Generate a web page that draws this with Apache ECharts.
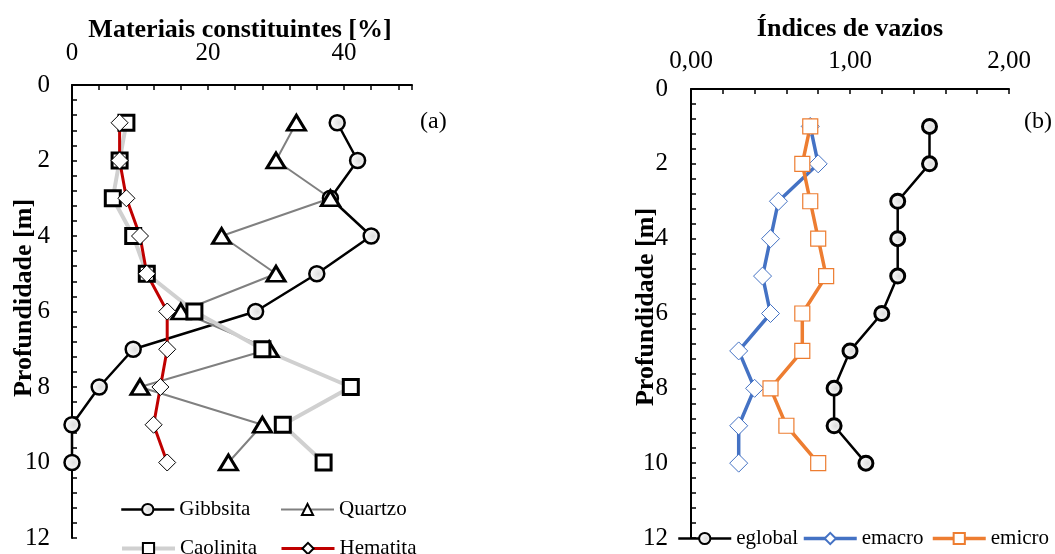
<!DOCTYPE html>
<html><head><meta charset="utf-8">
<script src="https://cdn.jsdelivr.net/npm/echarts@6/dist/echarts.min.js"></script>
<style>html,body{margin:0;padding:0;background:#fff}#c{width:1055px;height:554px}</style>
</head><body><div id="c"></div>
<script>
// ---- data ----
const depths = [1, 2, 3, 4, 5, 6, 7, 8, 9, 10];
const gibbsita  = [39, 42, 38, 44, 36, 27, 9, 4, 0, 0];
const quartzo   = [33, 30, 38, 22, 30, 16, 29, 10, 28, 23];
const caolinita = [8, 7, 6, 9, 11, 18, 28, 41, 31, 37];
const hematita  = [7, 7, 8, 10, 11, 14, 14, 13, 12, 14];
const eglobal = [1.50, 1.50, 1.30, 1.30, 1.30, 1.20, 1.00, 0.90, 0.90, 1.10];
const emacro  = [0.75, 0.80, 0.55, 0.50, 0.45, 0.50, 0.30, 0.40, 0.30, 0.30];
const emicro  = [0.75, 0.70, 0.75, 0.80, 0.85, 0.70, 0.70, 0.50, 0.60, 0.80];
const leftTickLabels = [0, 20, 40];
const depthTickLabels = [0, 2, 4, 6, 8, 10, 12];

const FONT = '"Liberation Serif", "Times New Roman", serif';
const pairs = (vals) => vals.map((v, i) => [v, depths[i]]);
const circFill = {type: 'radial', x: 0.6, y: 0.5, r: 0.6,
  colorStops: [{offset: 0, color: '#dcdcdc'}, {offset: 0.6, color: '#f4f4f4'}, {offset: 1, color: '#ffffff'}]};

const chart = echarts.init(document.getElementById('c'), null, {renderer: 'canvas'});

const tickStyle = {color: '#000', width: 1.5};
const axisLineStyle = {lineStyle: {color: '#000', width: 2}};
const labelBase = {fontFamily: FONT, fontSize: 25, color: '#000'};

function yAxis(gridIndex, margin) {
  return {
    type: 'value', gridIndex, inverse: true, min: 0, max: 12, interval: 2,
    axisLine: axisLineStyle,
    axisTick: {show: true, inside: true, length: 5, lineStyle: tickStyle},
    minorTick: {show: true, splitNumber: 5, length: 5, lineStyle: tickStyle},
    splitLine: {show: false},
    axisLabel: Object.assign({margin, formatter: v => depthTickLabels.includes(v) ? String(v) : ''}, labelBase)
  };
}

function legend(name, left, cy, lw) {
  return {
    data: [name], left, top: cy - 7, padding: 0, itemWidth: 53, itemHeight: 14,
    itemGap: 0, selectedMode: false, orient: 'horizontal',
    textStyle: {fontFamily: FONT, fontSize: 21, color: '#000'},
    lineStyle: {width: lw}
  };
}

const option = {
  animation: false,
  backgroundColor: '#fff',
  grid: [
    {left: 72, top: 85, width: 340, height: 453},
    {left: 691, top: 89, width: 318, height: 449}
  ],
  xAxis: [
    {
      type: 'value', gridIndex: 0, position: 'top', min: 0, max: 50, interval: 4,
      axisLine: axisLineStyle,
      axisTick: {show: true, inside: true, length: 5, lineStyle: tickStyle},
      splitLine: {show: false},
      axisLabel: Object.assign({margin: 19, formatter: v => leftTickLabels.includes(v) ? String(v) : ''}, labelBase)
    },
    {
      type: 'value', gridIndex: 1, position: 'top', min: 0, max: 2, interval: 1,
      axisLine: axisLineStyle,
      axisTick: {show: true, inside: true, length: 5, lineStyle: tickStyle},
      minorTick: {show: true, splitNumber: 5, length: 5, lineStyle: tickStyle},
      splitLine: {show: false},
      axisLabel: Object.assign({margin: 15, formatter: v => v.toFixed(2).replace('.', ',')}, labelBase)
    }
  ],
  yAxis: [yAxis(0, 22), yAxis(1, 23)],
  legend: [
    legend('Gibbsita', 120, 506, 2.5),
    legend('Quartzo', 280, 506, 2),
    legend('Caolinita', 120, 545, 4),
    legend('Hematita', 280, 545, 3),
    legend('eglobal', 677, 535, 2.5),
    legend('emacro', 802, 535, 3.5),
    legend('emicro', 931, 535, 3.5)
  ],
  series: [
    {name: 'Gibbsita', type: 'line', xAxisIndex: 0, yAxisIndex: 0, data: pairs(gibbsita),
      symbol: 'circle', symbolSize: 15, showAllSymbol: true,
      lineStyle: {color: '#000', width: 2.5},
      itemStyle: {color: circFill, borderColor: '#000', borderWidth: 2.5}},
    {name: 'Quartzo', type: 'line', xAxisIndex: 0, yAxisIndex: 0, data: pairs(quartzo),
      symbol: 'triangle', symbolSize: [18, 15], showAllSymbol: true,
      lineStyle: {color: '#808080', width: 2},
      itemStyle: {color: '#fff', borderColor: '#000', borderWidth: 3}},
    {name: 'Caolinita', type: 'line', xAxisIndex: 0, yAxisIndex: 0, data: pairs(caolinita),
      symbol: 'rect', symbolSize: 15, showAllSymbol: true,
      lineStyle: {color: '#d0d0d0', width: 4},
      itemStyle: {color: '#fff', borderColor: '#000', borderWidth: 3}},
    {name: 'Hematita', type: 'line', xAxisIndex: 0, yAxisIndex: 0, data: pairs(hematita),
      symbol: 'diamond', symbolSize: 17, showAllSymbol: true,
      lineStyle: {color: '#c00000', width: 3},
      itemStyle: {color: '#fff', borderColor: '#000', borderWidth: 1}},
    {name: 'eglobal', type: 'line', xAxisIndex: 1, yAxisIndex: 1, data: pairs(eglobal),
      symbol: 'circle', symbolSize: 14, showAllSymbol: true,
      lineStyle: {color: '#000', width: 2.5},
      itemStyle: {color: circFill, borderColor: '#000', borderWidth: 3}},
    {name: 'emacro', type: 'line', xAxisIndex: 1, yAxisIndex: 1, data: pairs(emacro),
      symbol: 'diamond', symbolSize: 18, showAllSymbol: true,
      lineStyle: {color: '#4472c4', width: 3.5},
      itemStyle: {color: '#fff', borderColor: '#4472c4', borderWidth: 1}},
    {name: 'emicro', type: 'line', xAxisIndex: 1, yAxisIndex: 1, data: pairs(emicro),
      symbol: 'rect', symbolSize: 15, showAllSymbol: true,
      lineStyle: {color: '#ed7d31', width: 3.5},
      itemStyle: {color: '#fff', borderColor: '#ed7d31', borderWidth: 1.2}}
  ],
  graphic: [
    {type: 'text', x: 240, y: 30, style: {text: 'Materiais constituintes [%]', font: 'bold 26px ' + FONT, fill: '#000', align: 'center', verticalAlign: 'middle'}},
    {type: 'text', x: 850, y: 29, style: {text: 'Índices de vazios', font: 'bold 26px ' + FONT, fill: '#000', align: 'center', verticalAlign: 'middle'}},
    {type: 'text', x: 24, y: 298, rotation: Math.PI / 2, style: {text: 'Profundidade [m]', font: 'bold 26px ' + FONT, fill: '#000', align: 'center', verticalAlign: 'middle'}},
    {type: 'text', x: 646, y: 307, rotation: Math.PI / 2, style: {text: 'Profundidade [m]', font: 'bold 26px ' + FONT, fill: '#000', align: 'center', verticalAlign: 'middle'}},
    {type: 'text', x: 420, y: 122, style: {text: '(a)', font: '24px ' + FONT, fill: '#000', align: 'left', verticalAlign: 'middle'}},
    {type: 'text', x: 1024, y: 122, style: {text: '(b)', font: '24px ' + FONT, fill: '#000', align: 'left', verticalAlign: 'middle'}}
  ]
};
chart.setOption(option);
</script></body></html>
